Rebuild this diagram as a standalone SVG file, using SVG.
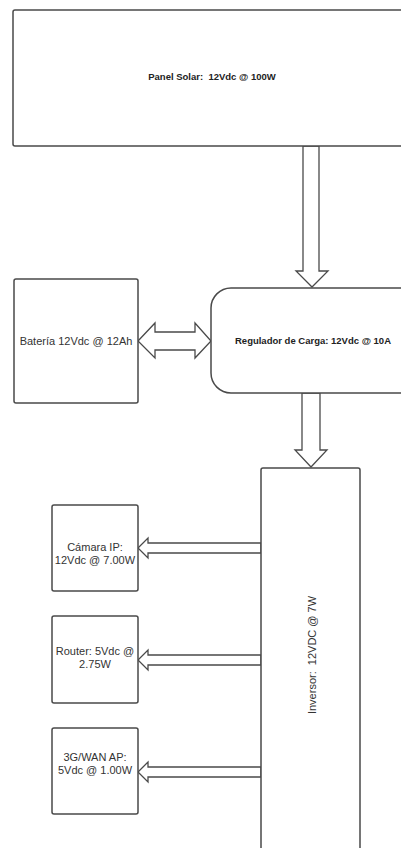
<svg xmlns="http://www.w3.org/2000/svg" width="401" height="848" viewBox="0 0 401 848">
<style>
.box{fill:#fff;stroke:#4a4a4a;stroke-width:1.5}
.arr{fill:#fff;stroke:#4a4a4a;stroke-width:1.3;stroke-linejoin:miter}
.t{font-family:"Liberation Sans",Arial,sans-serif;font-size:11px;fill:#333;text-anchor:middle}
.b{font-family:"Liberation Sans",Arial,sans-serif;font-size:9.5px;font-weight:bold;fill:#222;text-anchor:middle}
</style>
<rect width="401" height="848" fill="#fff"/>
<g id="connectors">
<path class="arr" d="M303,146 L319,146 L319,271 L328,271 L312,287 L296,271 L303,271 Z"/>
<path class="arr" d="M302,393 L320,393 L320,450 L327,450 L311,467 L295,450 L302,450 Z"/>
<path class="arr" d="M138,341 L155,323 L155,332 L195,332 L195,323 L211,341 L195,358 L195,350 L155,350 L155,358 Z"/>
<path class="arr" d="M261,543 L148,543 L148,538 L138,548 L148,558 L148,553 L261,553 Z"/>
<path class="arr" d="M261,655 L148,655 L148,650 L138,660 L148,670 L148,665 L261,665 Z"/>
<path class="arr" d="M261,767 L148,767 L148,762 L138,772 L148,782 L148,777 L261,777 Z"/>
</g>
<g id="panel">
<rect class="box" x="13" y="10" width="400" height="136" rx="2"/>
<text class="b" x="212" y="80" xml:space="preserve">Panel Solar:  12Vdc @ 100W</text>
</g>
<g id="bateria">
<rect class="box" x="14" y="279" width="124" height="124" rx="2"/>
<text class="t" x="76" y="345">Batería 12Vdc @ 12Ah</text>
</g>
<g id="regulador">
<rect class="box" x="211" y="288" width="210" height="105" rx="20"/>
<text class="b" x="313" y="344">Regulador de Carga: 12Vdc @ 10A</text>
</g>
<g id="inversor">
<rect class="box" x="261" y="468" width="99" height="400" rx="2"/>
<text class="t" transform="translate(316,655) rotate(-90)" xml:space="preserve">Inversor:  12VDC @ 7W</text>
</g>
<g id="camara">
<rect class="box" x="52" y="505" width="86" height="86" rx="2"/>
<text class="t" x="95" y="551">Cámara IP:</text>
<text class="t" x="95" y="564">12Vdc @ 7.00W</text>
</g>
<g id="router">
<rect class="box" x="52" y="616" width="86" height="87" rx="2"/>
<text class="t" x="95" y="655">Router: 5Vdc @</text>
<text class="t" x="95" y="668">2.75W</text>
</g>
<g id="ap3g">
<rect class="box" x="52" y="728" width="86" height="86" rx="2"/>
<text class="t" x="95" y="761">3G/WAN AP:</text>
<text class="t" x="95" y="774">5Vdc @ 1.00W</text>
</g>
</svg>
